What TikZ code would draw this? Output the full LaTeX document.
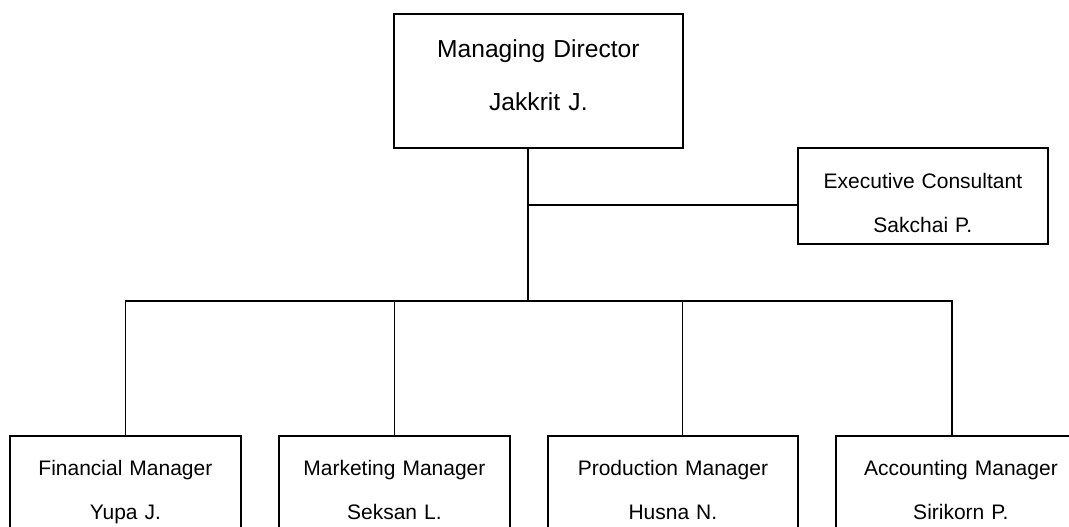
\documentclass[tikz,border=0pt]{standalone}
\usepackage{fontspec}
\setmainfont{Liberation Sans}
\usetikzlibrary{positioning,calc}

\begin{document}
\begin{tikzpicture}[x=1pt,y=-1pt,line width=1.8pt,
    post/.style={draw,inner sep=0pt,anchor=north west,align=center,
      font=\fontsize{21}{43.5}\selectfont,text height=40pt,text depth=56pt},
    head/.style={post,font=\fontsize{24.6}{53}\selectfont,text height=44pt,text depth=90pt}]
    \useasboundingbox (0,0) rectangle (1069,527);
    \clip (0,0) rectangle (1069,527);

    \node[head,text width=289pt] (md) at (393,13) {Managing Director\\Jakkrit J.};
    \node[post,text width=250pt,text height=41pt,text depth=55pt] (ec) at (797,147) {Executive Consultant\\Sakchai P.};

    \node[post,text width=231pt] (fin) at (9,435) {Financial Manager\\Yupa J.};
    \node[post,text width=231pt] (mkt) at (278,435) {Marketing Manager\\Seksan L.};
    \node[post,text width=250pt] (prd) at (547,435) {Production Manager\\Husna N.};
    \node[post,text width=250pt] (acc) at (835,435) {Accounting Manager\\Sirikorn P.};

    \coordinate (split) at (528,205);
    \coordinate (hub) at (528,301);

    \draw (md.south -| hub) -- (hub);
    \draw (split) -- (split -| ec.west);
    \draw (fin.north) |- (hub) -| ([xshift=-9pt]acc.north);
    \draw (mkt.north) -- (mkt.north |- hub);
    \draw ([xshift=9.5pt]prd.north) -- ([xshift=9.5pt]prd.north |- hub);
  \end{tikzpicture}
\end{document}
